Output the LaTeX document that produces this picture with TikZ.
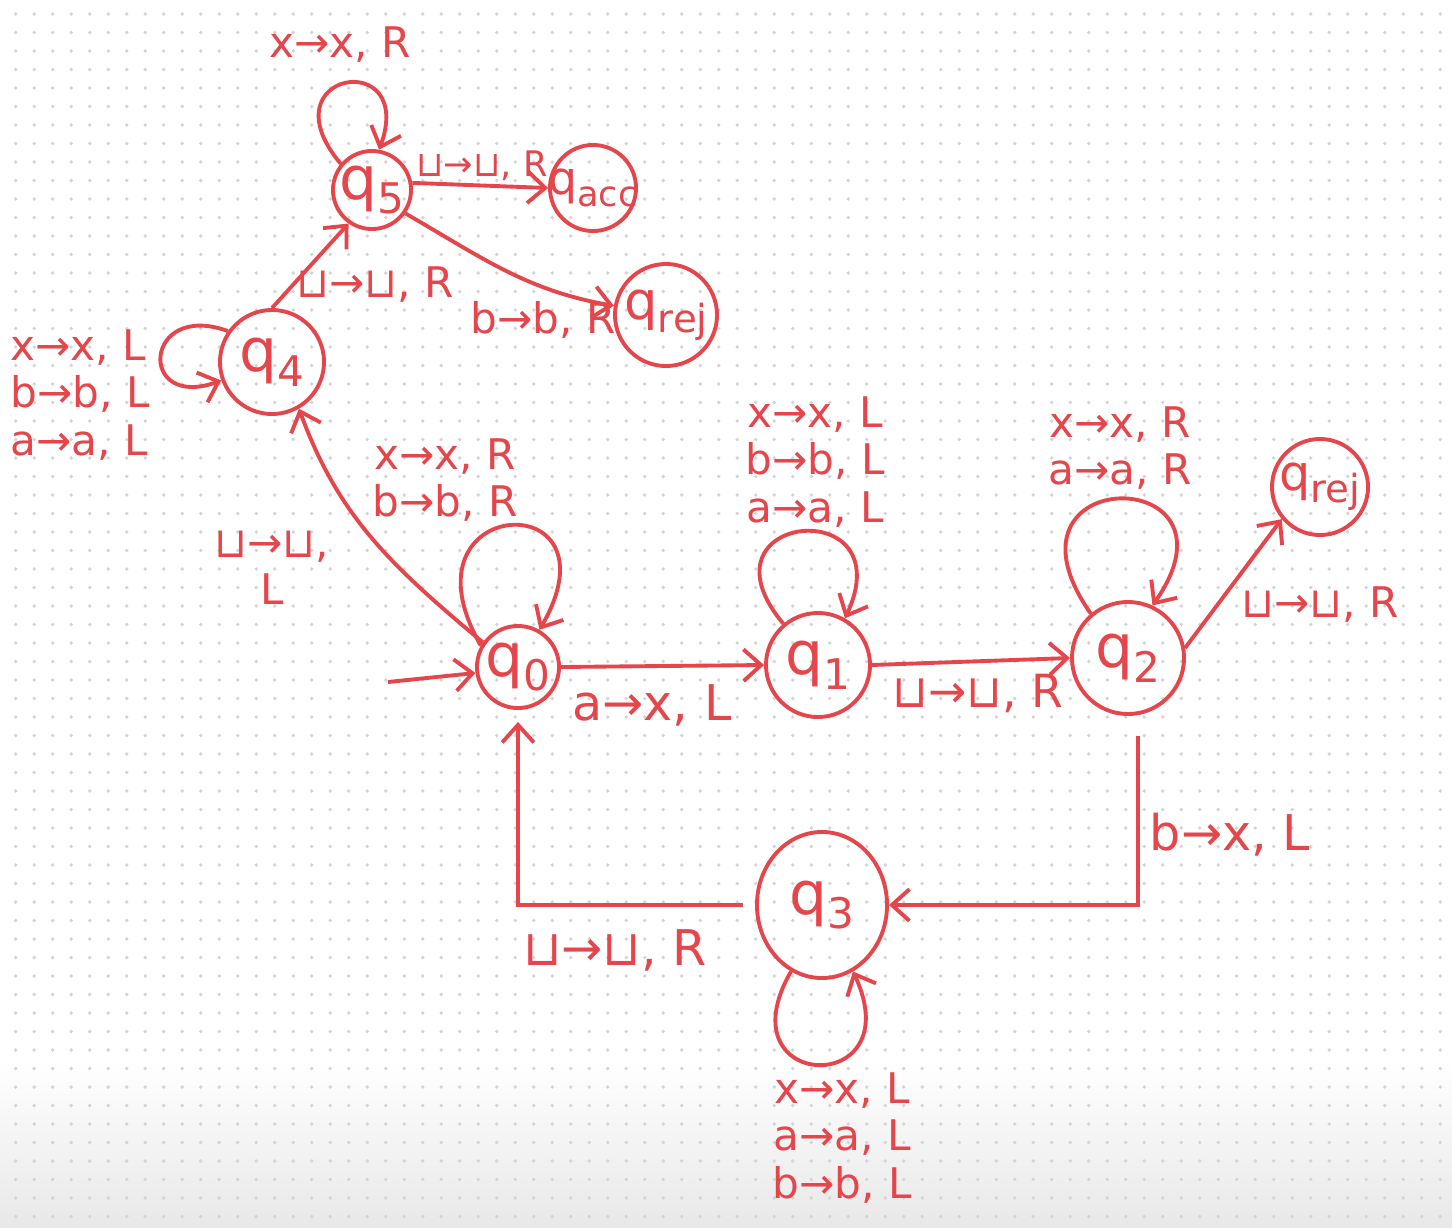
\documentclass[tikz,border=0pt]{standalone}
\usepackage{fontspec}
\setmainfont{DejaVu Sans}
\usetikzlibrary{arrows.meta,shapes.geometric}
\definecolor{pen}{RGB}{228,70,76}
\definecolor{dotc}{RGB}{212,212,212}
\newcommand{\qlab}[3]{\makebox[0pt]{\fontsize{#1}{#1}\selectfont q\raisebox{-0.45ex}{\fontsize{#2}{#2}\selectfont #3}}}
\begin{document}
\begin{tikzpicture}[x=0.01cm,y=-0.01cm,
  st/.style={draw=pen,line width=1.1pt,circle,inner sep=0pt,text=pen},
  tr/.style={draw=pen,line width=1.1pt,-{Straight Barb[length=5pt,width=9pt,line width=1.1pt]}},
  lb/.style={text=pen,font=\fontsize{12}{13.5}\selectfont,align=center,inner sep=1pt},
  lbl/.style={lb,align=left},
  lbb/.style={lb,font=\fontsize{14}{16}\selectfont},
]
\useasboundingbox (0,0) rectangle (1452,1227);
\fill[white] (0,0) rectangle (1452,1227);
\shade[top color=white,bottom color=black!9] (0,1060) rectangle (1452,1227);
\foreach \i in {0,...,78}{\foreach \j in {0,...,66}{\fill[dotc] ({15.7+18.5*\i},{14+18.5*\j}) circle[radius=0.55pt];}}

% states
\node[st,minimum size=0.78cm] (q5) at (372,190) {\qlab{17}{12}{5}};
\node[st,minimum size=0.86cm] (qacc) at (593,188) {\qlab{13}{10}{acc}};
\node[st,minimum size=1.02cm] (qrejA) at (666,315) {\qlab{15}{11}{rej}};
\node[st,minimum size=1.04cm] (q4) at (272,362) {\qlab{17}{12}{4}};
\node[st,minimum size=0.82cm] (q0) at (518,667) {\qlab{17}{12}{0}};
\node[st,minimum size=1.04cm] (q1) at (818,665) {\qlab{17}{12}{1}};
\node[st,minimum size=1.12cm] (q2) at (1128,658) {\qlab{17}{12}{2}};
\node[st,minimum size=0.96cm] (qrejB) at (1320,487) {\qlab{14}{11}{rej}};
\node[st,ellipse,minimum width=1.3cm,minimum height=1.46cm] (q3) at (822,905) {\qlab{17}{12}{3}};

\coordinate (start) at (388,682);

% transitions
\draw[tr] (start) -- (q0.188);
\draw[tr] (q0.east) -- (q1.west);
\draw[tr] (q1.east) -- (q2.west);
\draw[tr] (q2.10) -- (qrejB.220);
\draw[tr] ([xshift=0.1cm,yshift=-0.2cm]q2.south) |- (q3.east);
\draw[tr] ([xshift=-0.12cm]q3.west) -| ([yshift=-0.12cm]q0.south);
\draw[tr] (q0.145) to[out=140,in=-70] (q4.300);
\draw[tr] (q4.north) -- (q5.235);
\draw[tr] (q5.10) -- (qacc.west);
\draw[tr] (q5.-35) to[out=-30,in=170] (qrejA.170);

% loops
\draw[tr] (q5.140) .. controls +(130:1.2cm) and +(70:1.1cm) .. (q5.80);
\draw[tr] (q4.145) .. controls +(160:0.9cm) and +(200:0.9cm) .. (q4.200);
\draw[tr] (q0.150) .. controls +(120:1.75cm) and +(60:1.7cm) .. (q0.60);
\draw[tr] (q1.130) .. controls +(130:1.45cm) and +(65:1.4cm) .. (q1.60);
\draw[tr] (q2.130) .. controls +(125:1.85cm) and +(55:1.75cm) .. (q2.65);
\draw[tr] (q3.245) .. controls +(240:1.4cm) and +(295:1.4cm) .. (q3.295);

% labels
\node[lb] (l5) at (340,45) {x→x, R};
\node[lbl] (l4) at (80,395) {x→x, L\\b→b, L\\a→a, L};
\node[lb] (l0) at (445,480) {x→x, R\\b→b, R};
\node[lb] (l1) at (815,462) {x→x, L\\b→b, L\\a→a, L};
\node[lb] (l2) at (1120,448) {x→x, R\\a→a, R};
\node[lb] (l3) at (842,1138) {x→x, L\\a→a, L\\b→b, L};
\node[lbb] (e01) at (652,705) {a→x, L};
\node[lb,font=\fontsize{13}{15}\selectfont] (e12) at (978,693) {⊔→⊔, R};
\node[lb] (e2r) at (1320,605) {⊔→⊔, R};
\node[lbb] (e23) at (1230,835) {b→x, L};
\node[lbb] (e30) at (615,950) {⊔→⊔, R};
\node[lb] (e04) at (272,568) {⊔→⊔,\\L};
\node[lb] (e45) at (375,285) {⊔→⊔, R};
\node[lb,font=\fontsize{10}{12}\selectfont] (e5a) at (482,166) {⊔→⊔, R};
\node[lb] (e5r) at (543,320) {b→b, R};
\end{tikzpicture}
\end{document}
